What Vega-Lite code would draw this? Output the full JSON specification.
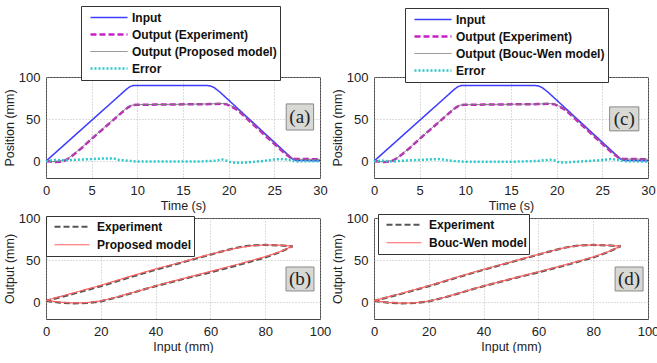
{
"$schema": "https://vega.github.io/schema/vega-lite/v6.json",
"background": "white",
"padding": {"left": 2, "top": 5, "right": 0, "bottom": 0},
"config": {
  "font": "Liberation Sans",
  "view": {"stroke": "#444", "strokeWidth": 1},
  "axis": {"grid": true, "gridColor": "#aaa", "gridDash": [1, 2], "gridWidth": 0.8, "domain": false, "ticks": false, "labelFlush": false, "labelFontSize": 13, "labelColor": "#222", "titleFontSize": 12.5, "titleFontWeight": "normal", "titleColor": "#222", "labelPadding": 6, "titlePadding": 2},
  "legend": {"title": null, "orient": "none", "fillColor": "white", "strokeColor": "#333", "symbolType": "stroke", "rowPadding": 0, "labelFontSize": 12, "labelFontWeight": "bold", "labelColor": "#111", "labelLimit": 400}
},
"datasets": {
  "base": [
    {"t":0,"v":0,"s":"Input"},{"t":1,"v":9.7,"s":"Input"},{"t":2,"v":19.4,"s":"Input"},{"t":3,"v":29.1,"s":"Input"},{"t":4,"v":38.8,"s":"Input"},{"t":5,"v":48.5,"s":"Input"},{"t":6,"v":58.2,"s":"Input"},{"t":7,"v":67.9,"s":"Input"},{"t":8,"v":77.6,"s":"Input"},{"t":8.8,"v":85.4,"s":"Input"},{"t":9.2,"v":88.6,"s":"Input"},{"t":9.6,"v":90,"s":"Input"},{"t":12,"v":90,"s":"Input"},{"t":15,"v":90,"s":"Input"},{"t":17.6,"v":90,"s":"Input"},{"t":18,"v":89.3,"s":"Input"},{"t":18.4,"v":87.5,"s":"Input"},{"t":19,"v":82.5,"s":"Input"},{"t":20,"v":72.5,"s":"Input"},{"t":21,"v":62.5,"s":"Input"},{"t":22,"v":52.5,"s":"Input"},{"t":23,"v":42.5,"s":"Input"},{"t":24,"v":32.5,"s":"Input"},{"t":25,"v":22.5,"s":"Input"},{"t":26,"v":12.5,"s":"Input"},{"t":27,"v":2.5,"s":"Input"},{"t":27.4,"v":1,"s":"Input"},{"t":28,"v":0.8,"s":"Input"},{"t":30,"v":0.5,"s":"Input"},
    {"t":0,"v":0,"s":"Output (Experiment)"},{"t":0.5,"v":-0.5,"s":"Output (Experiment)"},{"t":1,"v":-1,"s":"Output (Experiment)"},{"t":1.5,"v":-0.8,"s":"Output (Experiment)"},{"t":2,"v":0.5,"s":"Output (Experiment)"},{"t":2.5,"v":3.5,"s":"Output (Experiment)"},{"t":3,"v":7.5,"s":"Output (Experiment)"},{"t":4,"v":16.5,"s":"Output (Experiment)"},{"t":5,"v":26.5,"s":"Output (Experiment)"},{"t":6,"v":36,"s":"Output (Experiment)"},{"t":7,"v":45.5,"s":"Output (Experiment)"},{"t":8,"v":55,"s":"Output (Experiment)"},{"t":8.6,"v":60.5,"s":"Output (Experiment)"},{"t":9,"v":64,"s":"Output (Experiment)"},{"t":9.4,"v":66.5,"s":"Output (Experiment)"},{"t":10,"v":67,"s":"Output (Experiment)"},{"t":12,"v":67.2,"s":"Output (Experiment)"},{"t":14,"v":67.4,"s":"Output (Experiment)"},{"t":16,"v":67.6,"s":"Output (Experiment)"},{"t":18,"v":67.8,"s":"Output (Experiment)"},{"t":19.2,"v":68.2,"s":"Output (Experiment)"},{"t":19.8,"v":67.5,"s":"Output (Experiment)"},{"t":20.3,"v":65,"s":"Output (Experiment)"},{"t":21,"v":60.5,"s":"Output (Experiment)"},{"t":22,"v":50.5,"s":"Output (Experiment)"},{"t":23,"v":40.5,"s":"Output (Experiment)"},{"t":24,"v":30.5,"s":"Output (Experiment)"},{"t":25,"v":20.5,"s":"Output (Experiment)"},{"t":26,"v":10.5,"s":"Output (Experiment)"},{"t":26.8,"v":4,"s":"Output (Experiment)"},{"t":27.2,"v":2.8,"s":"Output (Experiment)"},{"t":28,"v":2.6,"s":"Output (Experiment)"},{"t":30,"v":2.2,"s":"Output (Experiment)"}
  ],
  "modA": [
    {"t":0,"v":0,"s":"M"},{"t":1,"v":-0.5,"s":"M"},{"t":2,"v":1,"s":"M"},{"t":2.5,"v":4,"s":"M"},{"t":3,"v":8,"s":"M"},{"t":4,"v":17,"s":"M"},{"t":5,"v":27,"s":"M"},{"t":6,"v":36.5,"s":"M"},{"t":7,"v":46,"s":"M"},{"t":8,"v":55.5,"s":"M"},{"t":8.6,"v":61,"s":"M"},{"t":9,"v":64.5,"s":"M"},{"t":9.4,"v":66.5,"s":"M"},{"t":10,"v":67.2,"s":"M"},{"t":14,"v":67.5,"s":"M"},{"t":18,"v":68,"s":"M"},{"t":19.3,"v":68.6,"s":"M"},{"t":19.8,"v":68,"s":"M"},{"t":20.3,"v":65.5,"s":"M"},{"t":21,"v":61,"s":"M"},{"t":22,"v":51,"s":"M"},{"t":23,"v":41,"s":"M"},{"t":24,"v":31,"s":"M"},{"t":25,"v":21,"s":"M"},{"t":26,"v":11,"s":"M"},{"t":26.8,"v":4.5,"s":"M"},{"t":27.2,"v":2.5,"s":"M"},{"t":28,"v":2.2,"s":"M"},{"t":30,"v":2,"s":"M"},
    {"t":0,"v":0,"s":"Error"},{"t":1,"v":1.5,"s":"Error"},{"t":2,"v":1,"s":"Error"},{"t":3,"v":1.5,"s":"Error"},{"t":4,"v":2,"s":"Error"},{"t":5,"v":2.5,"s":"Error"},{"t":6,"v":3,"s":"Error"},{"t":7,"v":3.2,"s":"Error"},{"t":7.5,"v":3,"s":"Error"},{"t":8,"v":1.5,"s":"Error"},{"t":9,"v":0.5,"s":"Error"},{"t":10,"v":-0.5,"s":"Error"},{"t":12,"v":-0.5,"s":"Error"},{"t":15,"v":-0.5,"s":"Error"},{"t":17,"v":-0.3,"s":"Error"},{"t":18.5,"v":0.5,"s":"Error"},{"t":19.3,"v":2,"s":"Error"},{"t":19.8,"v":0.5,"s":"Error"},{"t":20.3,"v":-1.5,"s":"Error"},{"t":21,"v":-2,"s":"Error"},{"t":22,"v":-1.5,"s":"Error"},{"t":23,"v":-0.5,"s":"Error"},{"t":24,"v":0.5,"s":"Error"},{"t":25,"v":2,"s":"Error"},{"t":26,"v":2.5,"s":"Error"},{"t":26.8,"v":1.5,"s":"Error"},{"t":27.3,"v":-0.5,"s":"Error"},{"t":28,"v":0,"s":"Error"},{"t":30,"v":0,"s":"Error"}
  ],
  "modC": [
    {"t":0,"v":0,"s":"M"},{"t":1,"v":-0.8,"s":"M"},{"t":2,"v":0.8,"s":"M"},{"t":2.5,"v":3.8,"s":"M"},{"t":3,"v":7.8,"s":"M"},{"t":4,"v":16.8,"s":"M"},{"t":5,"v":26.8,"s":"M"},{"t":6,"v":36.3,"s":"M"},{"t":7,"v":45.8,"s":"M"},{"t":8,"v":55.3,"s":"M"},{"t":8.6,"v":60.8,"s":"M"},{"t":9,"v":64.3,"s":"M"},{"t":9.4,"v":66.6,"s":"M"},{"t":10,"v":67.1,"s":"M"},{"t":14,"v":67.5,"s":"M"},{"t":18,"v":67.9,"s":"M"},{"t":19.3,"v":68.5,"s":"M"},{"t":19.8,"v":67.8,"s":"M"},{"t":20.3,"v":65.3,"s":"M"},{"t":21,"v":60.8,"s":"M"},{"t":22,"v":50.8,"s":"M"},{"t":23,"v":40.8,"s":"M"},{"t":24,"v":30.8,"s":"M"},{"t":25,"v":20.8,"s":"M"},{"t":26,"v":10.8,"s":"M"},{"t":26.8,"v":4.3,"s":"M"},{"t":27.2,"v":2.7,"s":"M"},{"t":28,"v":2.5,"s":"M"},{"t":30,"v":2.3,"s":"M"},
    {"t":0,"v":0,"s":"Error"},{"t":1,"v":0.5,"s":"Error"},{"t":2,"v":-0.5,"s":"Error"},{"t":3,"v":0.5,"s":"Error"},{"t":4,"v":1,"s":"Error"},{"t":5,"v":1.5,"s":"Error"},{"t":6,"v":2,"s":"Error"},{"t":7,"v":2.5,"s":"Error"},{"t":7.5,"v":2,"s":"Error"},{"t":8,"v":1,"s":"Error"},{"t":9,"v":0,"s":"Error"},{"t":10,"v":-0.8,"s":"Error"},{"t":15,"v":-0.8,"s":"Error"},{"t":18,"v":0.3,"s":"Error"},{"t":19.3,"v":1.8,"s":"Error"},{"t":19.8,"v":0.8,"s":"Error"},{"t":20.3,"v":-1.5,"s":"Error"},{"t":21,"v":-1.5,"s":"Error"},{"t":22,"v":-0.8,"s":"Error"},{"t":24,"v":0.5,"s":"Error"},{"t":25,"v":1.5,"s":"Error"},{"t":26,"v":2.5,"s":"Error"},{"t":26.8,"v":1.5,"s":"Error"},{"t":27.3,"v":0,"s":"Error"},{"t":30,"v":-0.5,"s":"Error"}
  ],
  "hysExp": [
    {"i":0,"inp":0,"out":1.5},{"i":1,"inp":5,"out":-0.5},{"i":2,"inp":10,"out":-1.5},{"i":3,"inp":15,"out":-1},{"i":4,"inp":20,"out":1},{"i":5,"inp":25,"out":5},{"i":6,"inp":30,"out":9.5},{"i":7,"inp":35,"out":14.5},{"i":8,"inp":40,"out":19},{"i":9,"inp":50,"out":27.5},{"i":10,"inp":60,"out":35.5},{"i":11,"inp":70,"out":44},{"i":12,"inp":80,"out":53},{"i":13,"inp":85,"out":59},{"i":14,"inp":90,"out":66.5},
    {"i":15,"inp":85,"out":67.5},{"i":16,"inp":80,"out":68},{"i":17,"inp":75,"out":67.5},{"i":18,"inp":70,"out":65},{"i":19,"inp":65,"out":61},{"i":20,"inp":60,"out":56.5},{"i":21,"inp":50,"out":47.5},{"i":22,"inp":40,"out":38.5},{"i":23,"inp":30,"out":29},{"i":24,"inp":20,"out":19},{"i":25,"inp":10,"out":10},{"i":26,"inp":0,"out":1.5}
  ],
  "hysB": [
    {"i":0,"inp":0,"out":2},{"i":1,"inp":5,"out":0},{"i":2,"inp":10,"out":-1},{"i":3,"inp":15,"out":-0.5},{"i":4,"inp":20,"out":1.5},{"i":5,"inp":25,"out":5.5},{"i":6,"inp":30,"out":10},{"i":7,"inp":35,"out":14.5},{"i":8,"inp":40,"out":19.5},{"i":9,"inp":50,"out":28},{"i":10,"inp":60,"out":36.5},{"i":11,"inp":70,"out":45},{"i":12,"inp":80,"out":54},{"i":13,"inp":85,"out":59.5},{"i":14,"inp":90,"out":66.5},
    {"i":15,"inp":85,"out":67.8},{"i":16,"inp":80,"out":68},{"i":17,"inp":75,"out":67},{"i":18,"inp":70,"out":64.5},{"i":19,"inp":65,"out":61},{"i":20,"inp":60,"out":57},{"i":21,"inp":50,"out":48},{"i":22,"inp":40,"out":39.5},{"i":23,"inp":30,"out":30},{"i":24,"inp":20,"out":20},{"i":25,"inp":10,"out":11},{"i":26,"inp":0,"out":2}
  ],
  "hysD": [
    {"i":0,"inp":0,"out":1.8},{"i":1,"inp":5,"out":-0.3},{"i":2,"inp":10,"out":-1.2},{"i":3,"inp":15,"out":-0.8},{"i":4,"inp":20,"out":1.2},{"i":5,"inp":25,"out":5.2},{"i":6,"inp":30,"out":9.8},{"i":7,"inp":35,"out":14.6},{"i":8,"inp":40,"out":19.3},{"i":9,"inp":50,"out":27.8},{"i":10,"inp":60,"out":36},{"i":11,"inp":70,"out":44.6},{"i":12,"inp":80,"out":53.6},{"i":13,"inp":85,"out":59.4},{"i":14,"inp":90,"out":66.5},
    {"i":15,"inp":85,"out":67.6},{"i":16,"inp":80,"out":68},{"i":17,"inp":75,"out":67.4},{"i":18,"inp":70,"out":65},{"i":19,"inp":65,"out":61.2},{"i":20,"inp":60,"out":56.8},{"i":21,"inp":50,"out":47.8},{"i":22,"inp":40,"out":39},{"i":23,"inp":30,"out":29.5},{"i":24,"inp":20,"out":19.5},{"i":25,"inp":10,"out":10.5},{"i":26,"inp":0,"out":1.8}
  ]
},
"columns": 2,
"spacing": {"row": 40, "column": 54},
"bounds": "flush",
"resolve": {"scale": {"color": "independent", "strokeDash": "independent", "strokeWidth": "independent"}, "legend": {"color": "independent", "strokeDash": "independent", "strokeWidth": "independent"}},
"concat": [
  {
    "width": 274, "height": 101,
    "layer": [
      {"data": {"name": "base"}, "mark": {"type": "line", "strokeCap": "butt"},
       "encoding": {
         "x": {"field": "t", "type": "quantitative", "scale": {"domain": [0, 30]}, "axis": {"values": [0,5,10,15,20,25,30], "title": "Time (s)"}},
         "y": {"field": "v", "type": "quantitative", "scale": {"domain": [-20, 100]}, "axis": {"values": [0,50,100], "title": "Position (mm)"}},
         "color": {"field": "s", "type": "nominal", "scale": {"domain": ["Input","Output (Experiment)","M","Error"], "range": ["#3c3cff","#c81ec8","#7a7a7a","#2ec8c8"]}, "legend": {"legendX": 35, "legendY": -71, "padding": 3, "symbolSize": 1369, "symbolOffset": 5, "labelOffset": 3, "clipHeight": 17, "labelExpr": "datum.label == 'M' ? 'Output (Proposed model)' : datum.label"}},
         "strokeDash": {"field": "s", "type": "nominal", "scale": {"domain": ["Input","Output (Experiment)","M","Error"], "range": [[1,0],[6,3],[1,0],[2,2]]}},
         "strokeWidth": {"field": "s", "type": "nominal", "scale": {"type": "ordinal", "domain": ["Input","Output (Experiment)","M","Error"], "range": [1.5,2.5,1,2.5]}}
       }},
      {"data": {"name": "modA"}, "mark": {"type": "line", "strokeCap": "butt"},
       "encoding": {
         "x": {"field": "t", "type": "quantitative"},
         "y": {"field": "v", "type": "quantitative"},
         "color": {"field": "s", "type": "nominal", "scale": {"domain": ["Input","Output (Experiment)","M","Error"], "range": ["#3c3cff","#c81ec8","#7a7a7a","#2ec8c8"]}, "legend": {"legendX": 35, "legendY": -71, "padding": 3, "symbolSize": 1369, "symbolOffset": 5, "labelOffset": 3, "clipHeight": 17, "labelExpr": "datum.label == 'M' ? 'Output (Proposed model)' : datum.label"}},
         "strokeDash": {"field": "s", "type": "nominal", "scale": {"domain": ["Input","Output (Experiment)","M","Error"], "range": [[1,0],[6,3],[1,0],[2,2]]}},
         "strokeWidth": {"field": "s", "type": "nominal", "scale": {"type": "ordinal", "domain": ["Input","Output (Experiment)","M","Error"], "range": [1.5,2.5,1,2.5]}}
       }},
      {"data": {"values": [{"lab": "(a)"}]}, "mark": {"type": "rect", "fill": "#666", "xOffset": 1.5, "yOffset": 1.5},
       "encoding": {"x": {"datum": 26.3, "type": "quantitative"}, "x2": {"datum": 29.3}, "y": {"datum": 68, "type": "quantitative"}, "y2": {"datum": 37}}},
      {"data": {"values": [{"lab": "(a)"}]}, "mark": {"type": "rect", "fill": "#d8d8d4", "stroke": "#8a8a8a", "strokeWidth": 1},
       "encoding": {"x": {"datum": 26.3, "type": "quantitative"}, "x2": {"datum": 29.3}, "y": {"datum": 68, "type": "quantitative"}, "y2": {"datum": 37}}},
      {"data": {"values": [{"lab": "(a)"}]}, "mark": {"type": "text", "font": "Liberation Serif", "fontSize": 19, "color": "#222", "align": "center", "baseline": "middle"},
       "encoding": {"x": {"datum": 27.8, "type": "quantitative"}, "y": {"datum": 52.5, "type": "quantitative"}, "text": {"field": "lab"}}}
    ]
  },
  {
    "width": 274, "height": 101,
    "layer": [
      {"data": {"name": "base"}, "mark": {"type": "line", "strokeCap": "butt"},
       "encoding": {
         "x": {"field": "t", "type": "quantitative", "scale": {"domain": [0, 30]}, "axis": {"values": [0,5,10,15,20,25,30], "title": "Time (s)"}},
         "y": {"field": "v", "type": "quantitative", "scale": {"domain": [-20, 100]}, "axis": {"values": [0,50,100], "title": "Position (mm)"}},
         "color": {"field": "s", "type": "nominal", "scale": {"domain": ["Input","Output (Experiment)","M","Error"], "range": ["#3c3cff","#c81ec8","#7a7a7a","#2ec8c8"]}, "legend": {"legendX": 31, "legendY": -69, "padding": 3, "symbolSize": 1369, "symbolOffset": 5, "labelOffset": 3, "clipHeight": 17, "labelExpr": "datum.label == 'M' ? 'Output (Bouc-Wen model)' : datum.label"}},
         "strokeDash": {"field": "s", "type": "nominal", "scale": {"domain": ["Input","Output (Experiment)","M","Error"], "range": [[1,0],[6,3],[1,0],[2,2]]}},
         "strokeWidth": {"field": "s", "type": "nominal", "scale": {"type": "ordinal", "domain": ["Input","Output (Experiment)","M","Error"], "range": [1.5,2.5,1,2.5]}}
       }},
      {"data": {"name": "modC"}, "mark": {"type": "line", "strokeCap": "butt"},
       "encoding": {
         "x": {"field": "t", "type": "quantitative"},
         "y": {"field": "v", "type": "quantitative"},
         "color": {"field": "s", "type": "nominal", "scale": {"domain": ["Input","Output (Experiment)","M","Error"], "range": ["#3c3cff","#c81ec8","#7a7a7a","#2ec8c8"]}, "legend": {"legendX": 31, "legendY": -69, "padding": 3, "symbolSize": 1369, "symbolOffset": 5, "labelOffset": 3, "clipHeight": 17, "labelExpr": "datum.label == 'M' ? 'Output (Bouc-Wen model)' : datum.label"}},
         "strokeDash": {"field": "s", "type": "nominal", "scale": {"domain": ["Input","Output (Experiment)","M","Error"], "range": [[1,0],[6,3],[1,0],[2,2]]}},
         "strokeWidth": {"field": "s", "type": "nominal", "scale": {"type": "ordinal", "domain": ["Input","Output (Experiment)","M","Error"], "range": [1.5,2.5,1,2.5]}}
       }},
      {"data": {"values": [{"lab": "(c)"}]}, "mark": {"type": "rect", "fill": "#666", "xOffset": 1.5, "yOffset": 1.5},
       "encoding": {"x": {"datum": 25.8, "type": "quantitative"}, "x2": {"datum": 29}, "y": {"datum": 64.5, "type": "quantitative"}, "y2": {"datum": 36}}},
      {"data": {"values": [{"lab": "(c)"}]}, "mark": {"type": "rect", "fill": "#d8d8d4", "stroke": "#8a8a8a", "strokeWidth": 1},
       "encoding": {"x": {"datum": 25.8, "type": "quantitative"}, "x2": {"datum": 29}, "y": {"datum": 64.5, "type": "quantitative"}, "y2": {"datum": 36}}},
      {"data": {"values": [{"lab": "(c)"}]}, "mark": {"type": "text", "font": "Liberation Serif", "fontSize": 19, "color": "#222", "align": "center", "baseline": "middle"},
       "encoding": {"x": {"datum": 27.4, "type": "quantitative"}, "y": {"datum": 50.5, "type": "quantitative"}, "text": {"field": "lab"}}}
    ]
  },
  {
    "width": 274, "height": 101,
    "layer": [
      {"data": {"name": "hysExp"}, "transform": [{"calculate": "'Experiment'", "as": "s"}], "mark": {"type": "line", "strokeCap": "butt"},
       "encoding": {
         "x": {"field": "inp", "type": "quantitative", "scale": {"domain": [0, 100]}, "axis": {"values": [0,20,40,60,80,100], "title": "Input (mm)"}},
         "y": {"field": "out", "type": "quantitative", "scale": {"domain": [-20, 100]}, "axis": {"values": [0,50,100], "title": "Output (mm)"}},
         "order": {"field": "i", "type": "quantitative"},
         "color": {"field": "s", "type": "nominal", "scale": {"domain": ["Experiment","Proposed model"], "range": ["#555555","#ff6262"]}, "legend": {"legendX": 0, "legendY": -2, "padding": 2, "symbolSize": 1225, "symbolOffset": 5, "labelOffset": 6, "clipHeight": 17.5}},
         "strokeDash": {"field": "s", "type": "nominal", "scale": {"domain": ["Experiment","Proposed model"], "range": [[6,3],[1,0]]}},
         "strokeWidth": {"field": "s", "type": "nominal", "scale": {"type": "ordinal", "domain": ["Experiment","Proposed model"], "range": [2.2,1.2]}}
       }},
      {"data": {"name": "hysB"}, "transform": [{"calculate": "'Proposed model'", "as": "s"}], "mark": {"type": "line", "strokeCap": "butt"},
       "encoding": {
         "x": {"field": "inp", "type": "quantitative"},
         "y": {"field": "out", "type": "quantitative"},
         "order": {"field": "i", "type": "quantitative"},
         "color": {"field": "s", "type": "nominal", "scale": {"domain": ["Experiment","Proposed model"], "range": ["#555555","#ff6262"]}, "legend": {"legendX": 0, "legendY": -2, "padding": 2, "symbolSize": 1225, "symbolOffset": 5, "labelOffset": 6, "clipHeight": 17.5}},
         "strokeDash": {"field": "s", "type": "nominal", "scale": {"domain": ["Experiment","Proposed model"], "range": [[6,3],[1,0]]}},
         "strokeWidth": {"field": "s", "type": "nominal", "scale": {"type": "ordinal", "domain": ["Experiment","Proposed model"], "range": [2.2,1.2]}}
       }},
      {"data": {"values": [{"lab": "(b)"}]}, "mark": {"type": "rect", "fill": "#666", "xOffset": 1.5, "yOffset": 1.5},
       "encoding": {"x": {"datum": 87.6, "type": "quantitative"}, "x2": {"datum": 97.8}, "y": {"datum": 41.8, "type": "quantitative"}, "y2": {"datum": 13.3}}},
      {"data": {"values": [{"lab": "(b)"}]}, "mark": {"type": "rect", "fill": "#d8d8d4", "stroke": "#8a8a8a", "strokeWidth": 1},
       "encoding": {"x": {"datum": 87.6, "type": "quantitative"}, "x2": {"datum": 97.8}, "y": {"datum": 41.8, "type": "quantitative"}, "y2": {"datum": 13.3}}},
      {"data": {"values": [{"lab": "(b)"}]}, "mark": {"type": "text", "font": "Liberation Serif", "fontSize": 19, "color": "#222", "align": "center", "baseline": "middle"},
       "encoding": {"x": {"datum": 92.7, "type": "quantitative"}, "y": {"datum": 27.5, "type": "quantitative"}, "text": {"field": "lab"}}}
    ]
  },
  {
    "width": 274, "height": 101,
    "layer": [
      {"data": {"name": "hysExp"}, "transform": [{"calculate": "'Experiment'", "as": "s"}], "mark": {"type": "line", "strokeCap": "butt"},
       "encoding": {
         "x": {"field": "inp", "type": "quantitative", "scale": {"domain": [0, 100]}, "axis": {"values": [0,20,40,60,80,100], "title": "Input (mm)"}},
         "y": {"field": "out", "type": "quantitative", "scale": {"domain": [-20, 100]}, "axis": {"values": [0,50,100], "title": "Output (mm)"}},
         "order": {"field": "i", "type": "quantitative"},
         "color": {"field": "s", "type": "nominal", "scale": {"domain": ["Experiment","Bouc-Wen model"], "range": ["#555555","#ff6262"]}, "legend": {"legendX": 4, "legendY": -4, "padding": 2, "symbolSize": 1225, "symbolOffset": 5, "labelOffset": 6, "clipHeight": 17.5}},
         "strokeDash": {"field": "s", "type": "nominal", "scale": {"domain": ["Experiment","Bouc-Wen model"], "range": [[6,3],[1,0]]}},
         "strokeWidth": {"field": "s", "type": "nominal", "scale": {"type": "ordinal", "domain": ["Experiment","Bouc-Wen model"], "range": [2.2,1.2]}}
       }},
      {"data": {"name": "hysD"}, "transform": [{"calculate": "'Bouc-Wen model'", "as": "s"}], "mark": {"type": "line", "strokeCap": "butt"},
       "encoding": {
         "x": {"field": "inp", "type": "quantitative"},
         "y": {"field": "out", "type": "quantitative"},
         "order": {"field": "i", "type": "quantitative"},
         "color": {"field": "s", "type": "nominal", "scale": {"domain": ["Experiment","Bouc-Wen model"], "range": ["#555555","#ff6262"]}, "legend": {"legendX": 4, "legendY": -4, "padding": 2, "symbolSize": 1225, "symbolOffset": 5, "labelOffset": 6, "clipHeight": 17.5}},
         "strokeDash": {"field": "s", "type": "nominal", "scale": {"domain": ["Experiment","Bouc-Wen model"], "range": [[6,3],[1,0]]}},
         "strokeWidth": {"field": "s", "type": "nominal", "scale": {"type": "ordinal", "domain": ["Experiment","Bouc-Wen model"], "range": [2.2,1.2]}}
       }},
      {"data": {"values": [{"lab": "(d)"}]}, "mark": {"type": "rect", "fill": "#666", "xOffset": 1.5, "yOffset": 1.5},
       "encoding": {"x": {"datum": 88, "type": "quantitative"}, "x2": {"datum": 98.2}, "y": {"datum": 41.8, "type": "quantitative"}, "y2": {"datum": 13.3}}},
      {"data": {"values": [{"lab": "(d)"}]}, "mark": {"type": "rect", "fill": "#d8d8d4", "stroke": "#8a8a8a", "strokeWidth": 1},
       "encoding": {"x": {"datum": 88, "type": "quantitative"}, "x2": {"datum": 98.2}, "y": {"datum": 41.8, "type": "quantitative"}, "y2": {"datum": 13.3}}},
      {"data": {"values": [{"lab": "(d)"}]}, "mark": {"type": "text", "font": "Liberation Serif", "fontSize": 19, "color": "#222", "align": "center", "baseline": "middle"},
       "encoding": {"x": {"datum": 93.1, "type": "quantitative"}, "y": {"datum": 27.5, "type": "quantitative"}, "text": {"field": "lab"}}}
    ]
  }
]
}
